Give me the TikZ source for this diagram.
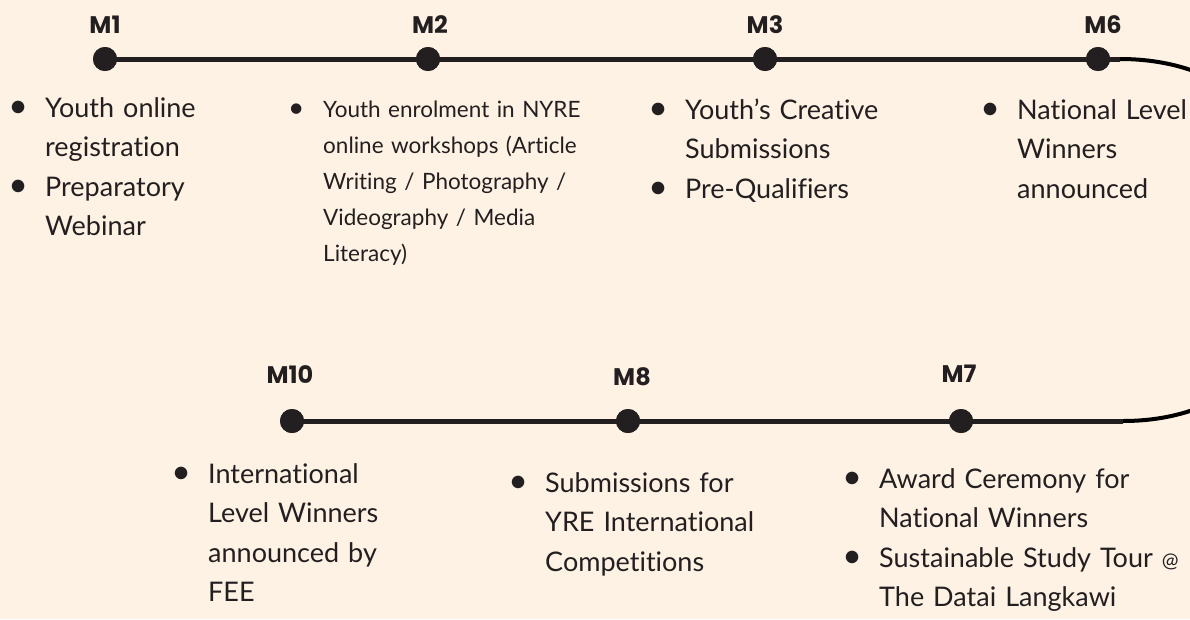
\documentclass[tikz,border=0pt]{standalone}
\usepackage{fontspec}
\setmainfont{Lato}[Ligatures=NoCommon]
\newfontfamily\labfont{Poppins}
\definecolor{ink}{HTML}{231F20}
\definecolor{paper}{HTML}{FDF2E4}
\newcommand\bul[1]{\ifvmode\noindent\fi\hangindent=27pt\hangafter=1\makebox[27pt][l]{\makebox[0pt]{\scalebox{1.25}{\textbullet}}}#1\par}
\tikzset{
  mdot/.style={circle,fill=ink,inner sep=0pt,minimum size=24pt},
  mlabel/.style={inner sep=0pt,text=ink,font=\labfont\bfseries\fontsize{24}{24}\selectfont},
  col/.style={inner sep=0pt,anchor=base west,text width=340pt,align=left,text=ink,font=\fontsize{27}{39.5}\selectfont},
  colsmall/.style={col,font=\fontsize{22.5}{36}\selectfont},
  tl/.style={line width=5pt,draw=ink},
  uturn/.style={line width=4pt,draw=black}
}
\begin{document}
\begin{tikzpicture}[x=1pt,y=-1pt]
\fill[paper] (0,0) rectangle (1190,619);
\useasboundingbox (0,0) rectangle (1190,619);
% top row
\node[mdot] (d1) at (105,59) {};
\node[mdot] (d2) at (428,59) {};
\node[mdot] (d3) at (765,59) {};
\node[mdot] (d6) at (1098,59) {};
\coordinate (t6) at (1120,59);
\node[mlabel] (l1) at (105,25) {M1};
\node[mlabel] (l2) at (430,25) {M2};
\node[mlabel] (l3) at (765,25) {M3};
\node[mlabel] (l6) at (1103,25) {M6};
% bottom row
\node[mdot] (d10) at (292,421) {};
\node[mdot] (d8) at (628,421) {};
\node[mdot] (d7) at (961,421) {};
\coordinate (t7) at (1123,421);
\node[mlabel] (l10) at (290,375) {M10};
\node[mlabel] (l8) at (632,377) {M8};
\node[mlabel] (l7) at (959,374) {M7};
% lines
\draw[uturn] (t6) .. controls (1372,59) and (1372,421) .. (t7);
\draw[tl] (d1.center) -- (d2.center) -- (d3.center) -- (d6.center) -- (t6);
\draw[tl] (d10.center) -- (d8.center) -- (d7.center) -- (t7);
\foreach \n in {d1,d2,d3,d6,d10,d8,d7} \node[mdot] at (\n) {};
% texts
\node[col] (c1) at (18,117) {\bul{Youth online\newline registration}\bul{Preparatory\newline Webinar}};
\node[colsmall] (c2) at (296,117) {\bul{Youth enrolment in NYRE\newline online workshops (Article\newline Writing / Photography /\newline Videography / Media\newline Literacy)}};
\node[col] (c3) at (658,119) {\bul{Youth’s Creative\newline Submissions}\bul{Pre-Qualifiers}};
\node[col] (c6) at (990,119) {\bul{National Level\newline Winners\newline announced}};
\node[col] (c10) at (181,483) {\bul{International\newline Level Winners\newline announced by\newline FEE}};
\node[col] (c8) at (518,492) {\bul{Submissions for\newline YRE International\newline Competitions}};
\node[col] (c7) at (852,488) {\bul{Award Ceremony for\newline National Winners}\bul{Sustainable Study Tour {\fontsize{20}{20}\selectfont @}\newline The Datai Langkawi}};
\end{tikzpicture}
\end{document}
